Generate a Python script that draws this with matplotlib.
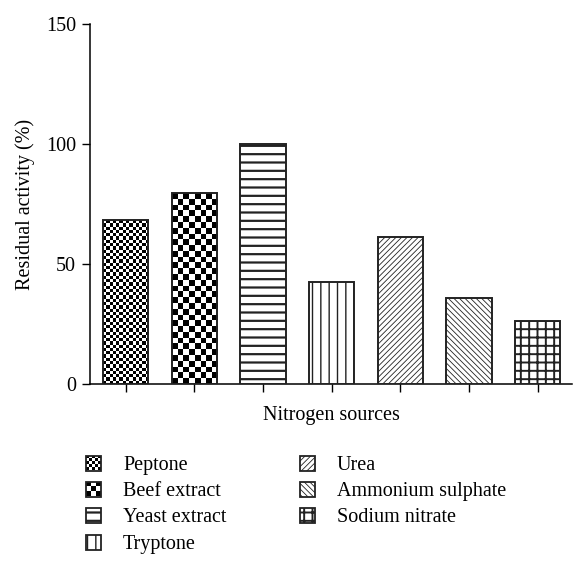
import numpy as np
import matplotlib
matplotlib.use("Agg")
import matplotlib.pyplot as plt
from matplotlib.patches import Rectangle

plt.rcParams["font.family"] = ["Liberation Serif", "DejaVu Serif"]

sources = ["Peptone", "Beef extract", "Yeast extract", "Tryptone",
           "Urea", "Ammonium sulphate", "Sodium nitrate"]
activity = [68.3, 79.5, 100.0, 42.6, 61.4, 36.0, 26.4]

# fill style per source: (kind, spec, hatch linewidth)
# "checker" spec is the cell size in px, "hatch" spec is the pattern
fills = [("checker", 3.3, 0), ("checker", 5.7, 0), ("hatch", "--", 1.6),
         ("hatch", "||", 1.0), ("hatch", "//////", 0.6),
         ("hatch", "\\\\\\\\\\\\", 0.6), ("hatch", "++", 1.4)]

W, H = 573, 582
FS = 14.5
fig = plt.figure(figsize=(W / 100, H / 100), dpi=100)
ax = fig.add_axes([90 / W, 1 - 384 / H, 482 / W, 360 / H])
ax.set_xlim(-0.52, 6.5)
ax.set_ylim(0, 150)


def checker_image(ax, x0, y0, x1, y1, cell, zorder):
    (px0, py0), (px1, py1) = ax.transData.transform([(x0, y0), (x1, y1)])
    nx = max(1, int(round(abs(px1 - px0) / cell)))
    ny = max(1, int(round(abs(py1 - py0) / cell)))
    grid = np.indices((ny, nx)).sum(axis=0) % 2
    return ax.imshow(grid, cmap="gray", vmin=0, vmax=1, origin="lower",
                     extent=(x0, x1, y0, y1), interpolation="nearest",
                     aspect="auto", zorder=zorder)


def style_hatch(patch, lw):
    if hasattr(patch, "set_hatch_linewidth"):
        patch.set_hatch_linewidth(lw)
    else:
        patch._hatch_linewidth = lw


x = np.arange(len(sources))
width = 0.66
for xi, val, (kind, spec, hlw) in zip(x, activity, fills):
    if kind == "checker":
        bar = ax.bar(xi, val, width, facecolor="none", edgecolor="#222222",
                     linewidth=1.4, zorder=3)[0]
        im = checker_image(ax, xi - width / 2, 0, xi + width / 2, val, spec, 2)
        im.set_clip_path(bar)
    else:
        bar = ax.bar(xi, val, width, facecolor="white", edgecolor="#222222",
                     linewidth=1.4, hatch=spec, zorder=3)[0]
        style_hatch(bar, hlw)

ax.set_xlim(-0.52, 6.5)
ax.set_ylim(0, 150)

for side in ("top", "right"):
    ax.spines[side].set_visible(False)
for side in ("left", "bottom"):
    ax.spines[side].set_linewidth(1.1)
ax.set_xticks(x)
ax.set_xticklabels([])
ax.set_yticks([0, 50, 100, 150])
ax.tick_params(direction="out", length=6, width=1.0, labelsize=FS, pad=4)
ax.set_xlabel("Nitrogen sources", fontsize=FS, labelpad=6)
ax.set_ylabel("Residual activity (%)", fontsize=FS, labelpad=8)

# hand-placed legend in pixel coordinates below the axes
leg = fig.add_axes([0, 0, 1, 1])
leg.set_xlim(0, W)
leg.set_ylim(H, 0)
leg.axis("off")
rows = [463, 489, 515, 542]
cols = [86, 300]
sw = 15
for i, (name, (kind, spec, hlw)) in enumerate(zip(sources, fills)):
    col, row = divmod(i, 4)
    cx, cy = cols[col], rows[row]
    if kind == "checker":
        box = Rectangle((cx, cy - sw / 2), sw, sw, facecolor="none",
                        edgecolor="#222222", linewidth=1.3, zorder=3)
        leg.add_patch(box)
        im = checker_image(leg, cx, cy + sw / 2, cx + sw, cy - sw / 2, spec, 2)
        im.set_clip_path(box)
    else:
        box = Rectangle((cx, cy - sw / 2), sw, sw, facecolor="white",
                        edgecolor="#222222", linewidth=1.3, hatch=spec,
                        zorder=3)
        style_hatch(box, hlw)
        leg.add_patch(box)
    leg.text(cx + 37, cy, name, fontsize=FS, va="center_baseline", ha="left")
leg.set_xlim(0, W)
leg.set_ylim(H, 0)

fig.savefig("out.png", dpi=100)
